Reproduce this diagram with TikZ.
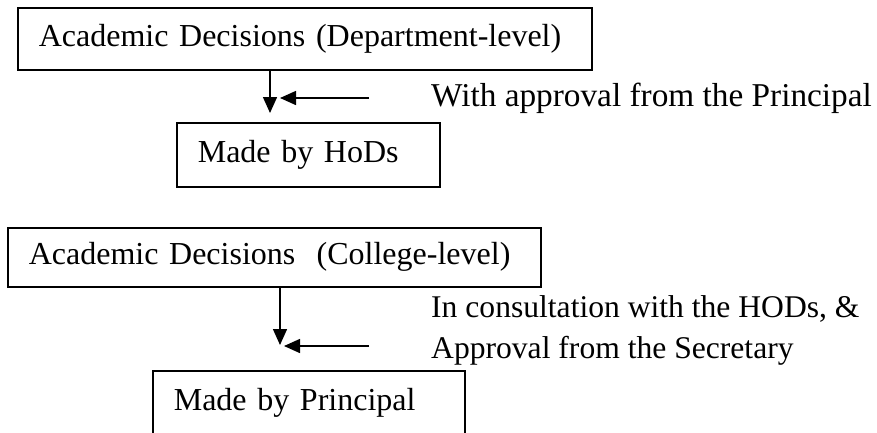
\documentclass[tikz,border=0pt]{standalone}
\usepackage{fontspec}
\setmainfont{Liberation Serif}
\usepackage{tikz}
\usetikzlibrary{arrows.meta}

\begin{document}
\begin{tikzpicture}[x=1pt, y=-1pt,
  box/.style={draw, line width=1.6pt, anchor=north west, align=left,
              inner xsep=21pt, inner ysep=0pt, font=\fontsize{32}{40}\selectfont},
  note/.style={anchor=base west, align=left, inner sep=0pt, font=\fontsize{33.3}{41}\selectfont},
  arr/.style={line width=1.5pt, -{Triangle[length=16pt,width=14pt]}}]

\useasboundingbox (0,0) rectangle (877,432);

% department level
\node[box, text width=532pt, minimum height=62pt] (dept) at (17,7)
  {Academic Decisions (Department-level)};
\node[box, text width=221pt, minimum height=64pt] (hods) at (176,122)
  {Made by HoDs};
\node[note] (approvalA) at (431,106) {With approval from the Principal};

\coordinate (tipA) at (270,113);
\coordinate (srcA) at (369,98);
\coordinate (endA) at (280,98);
\draw[arr] (dept.south -| tipA) -- (tipA);
\draw[arr] (srcA) -- (endA);

% college level
\node[box, text width=491pt, minimum height=59pt] (college) at (7,227)
  {Academic Decisions~~(College-level)};
\node[box, text width=270pt, minimum height=64pt] (principal) at (152,370)
  {Made by Principal};
\node[note, font=\fontsize{31.6}{41}\selectfont] (approvalB) at (431,358)
  {In consultation with the HODs, \&\\Approval from the Secretary};

\coordinate (tipB) at (280,345);
\coordinate (srcB) at (369,346);
\coordinate (endB) at (284,346);
\draw[arr] (college.south -| tipB) -- (tipB);
\draw[arr] (srcB) -- (endB);

\end{tikzpicture}
\end{document}
